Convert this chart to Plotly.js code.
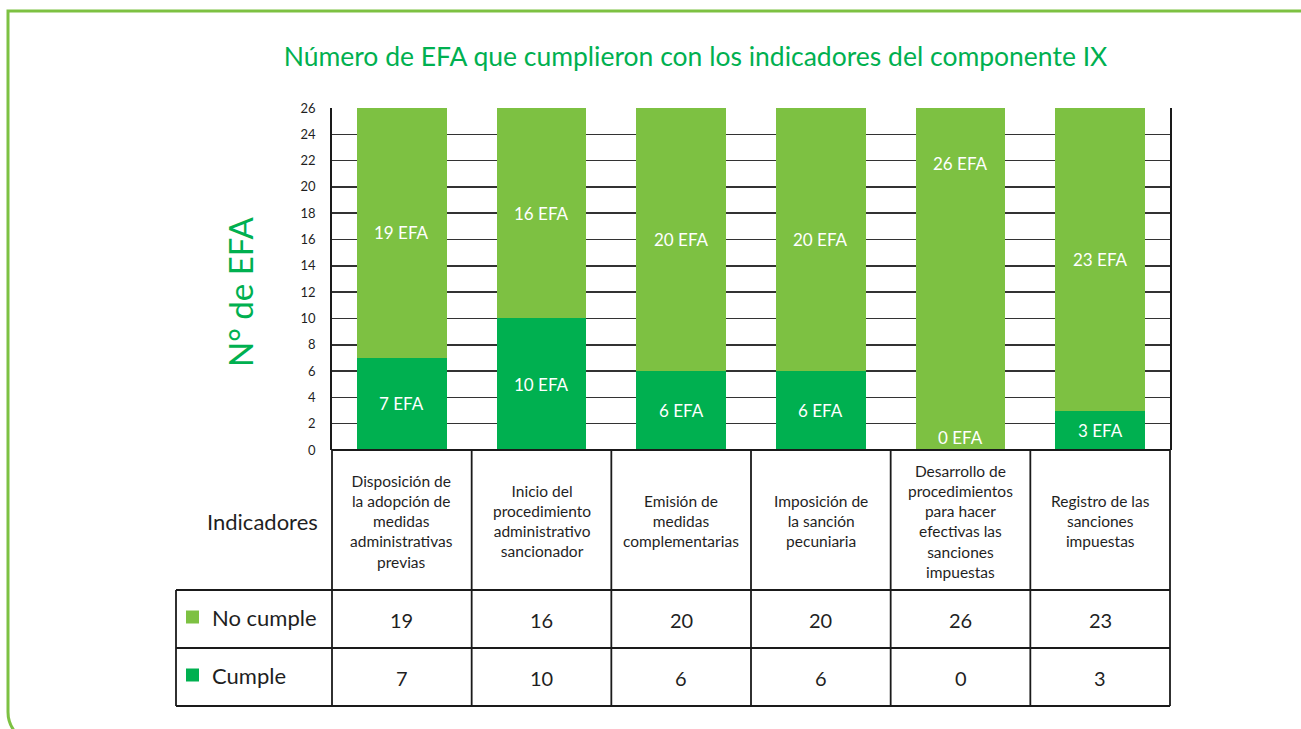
<!DOCTYPE html>
<html>
<head>
<meta charset="utf-8">
<script src="https://cdn.plot.ly/plotly-3.0.1.min.js"></script>
<style>html,body{margin:0;padding:0;background:#fff;}#chart{width:1301px;height:729px;}</style>
</head>
<body>
<div id="chart"></div>
<script>
// ---- data ----
const categories = [
  "Disposición de<br>la adopción de<br>medidas<br>administrativas<br>previas",
  "Inicio del<br>procedimiento<br>administrativo<br>sancionador",
  "Emisión de<br>medidas<br>complementarias",
  "Imposición de<br>la sanción<br>pecuniaria",
  "Desarrollo de<br>procedimientos<br>para hacer<br>efectivas las<br>sanciones<br>impuestas",
  "Registro de las<br>sanciones<br>impuestas"
];
const cumple = [7, 10, 6, 6, 0, 3];
const noCumple = [19, 16, 20, 20, 26, 23];
const seriesNames = ["No cumple", "Cumple"];
const yTicks = [0, 2, 4, 6, 8, 10, 12, 14, 16, 18, 20, 22, 24, 26];
const unitLabel = "EFA";
const titleText = "Número de EFA que cumplieron con los indicadores del componente IX";
const yTitleText = "N° de EFA";
const headerLabel = "Indicadores";

// ---- styles ----
const FONT = "Lato, 'Open Sans', sans-serif";
const C_NO = "#7DC142";
const C_SI = "#00B050";
const TXT = "#1f1f1f";
const LINE = "#1a1a1a";

// plot area in pixels
const L = 332, R = 1170, T = 108, B = 450, W = 1301, H = 729;
const px = x => (x - L) / (R - L);
const py = y => (B - y) / (B - T);
const colW = (R - L) / categories.length;
const colX = i => L + i * colW;

const idx = categories.map((_, i) => i);

const traces = [
  {type: "bar", x: idx, y: cumple, name: seriesNames[1], marker: {color: C_SI}, hoverinfo: "skip"},
  {type: "bar", x: idx, y: noCumple, name: seriesNames[0], marker: {color: C_NO}, hoverinfo: "skip"}
];

const shapes = [];
const annotations = [];
const line = (x0, y0, x1, y1, w, c) => shapes.push({type: "line", xref: "paper", yref: "paper",
  x0: px(x0), y0: py(y0), x1: px(x1), y1: py(y1), line: {color: c || LINE, width: w || 1.8}, layer: "above"});
const note = (x, y, text, size, color, extra) => annotations.push(Object.assign({
  xref: "paper", yref: "paper", x: px(x), y: py(y), text: text, showarrow: false,
  xanchor: "center", yanchor: "middle", align: "center",
  font: {family: FONT, size: size, color: color}}, extra || {}));

// Table grid
const rowY = [B, 590, 648, 706];
const tableLeft = 176;
line(L, B, R, B);
line(tableLeft, rowY[1], R, rowY[1]);
line(tableLeft, rowY[2], R, rowY[2]);
line(tableLeft, rowY[3], R, rowY[3]);
line(tableLeft, rowY[1], tableLeft, rowY[3]);
for (let i = 0; i <= categories.length; i++) line(colX(i), B, colX(i), rowY[3]);

// Frame (green rounded border)
shapes.push({type: "path", xref: "paper", yref: "paper",
  path: `M ${px(W + 5)},${py(11)} L ${px(8)},${py(11)} L ${px(8)},${py(712)} Q ${px(8)},${py(724)} ${px(16)},${py(733)}`,
  line: {color: C_NO, width: 3}, layer: "below"});

// Header, values, labels
categories.forEach((c, i) => {
  const cx = colX(i) + colW / 2;
  note(cx, (rowY[0] + rowY[1]) / 2 + 1, c, 15.5, TXT);
  note(cx, (rowY[1] + rowY[2]) / 2 + 1, String(noCumple[i]), 20, TXT);
  note(cx, (rowY[2] + rowY[3]) / 2 + 1, String(cumple[i]), 20, TXT);
  // bar labels
  const zero = cumple[i] === 0;
  annotations.push({xref: "x", yref: "y", x: i, y: zero ? 0 : cumple[i] / 2, yanchor: zero ? "bottom" : "middle",
    xanchor: "center", text: cumple[i] + " " + unitLabel, showarrow: false,
    font: {family: FONT, size: 17, color: "#ffffff"}});
  const total = cumple[i] + noCumple[i];
  annotations.push({xref: "x", yref: "y", x: i, y: zero ? total - 4.2 : cumple[i] + noCumple[i] / 2,
    xanchor: "center", yanchor: "middle", text: noCumple[i] + " " + unitLabel, showarrow: false,
    font: {family: FONT, size: 17, color: "#ffffff"}});
});

// Row labels & legend squares
note(320, 521, headerLabel, 22, TXT, {xanchor: "right"});
[[seriesNames[0], C_NO, (rowY[1] + rowY[2]) / 2], [seriesNames[1], C_SI, (rowY[2] + rowY[3]) / 2]].forEach(([n, col, yc]) => {
  shapes.push({type: "rect", xref: "paper", yref: "paper", x0: px(186), x1: px(199), y0: py(yc - 8.5), y1: py(yc + 4.5),
    fillcolor: col, line: {width: 0}});
  note(210, yc - 2, n, 22, TXT, {xanchor: "left"});
});

// Y-axis title
note(240, 292, yTitleText, 33, C_SI, {textangle: -90});

const layout = {
  width: W, height: H,
  margin: {l: L, r: W - R, t: T, b: H - B, pad: 0},
  paper_bgcolor: "#ffffff", plot_bgcolor: "#ffffff",
  barmode: "stack", bargap: 0.356, showlegend: false,
  title: {text: titleText, x: 695.5 / W, xanchor: "center", y: 1 - 57 / H, yanchor: "middle",
    font: {family: FONT, size: 26.5, color: C_SI}},
  xaxis: {type: "linear", range: [-0.5, categories.length - 0.5], showticklabels: false, showgrid: false,
    zeroline: false, showline: false, fixedrange: true},
  yaxis: {range: [0, 26], tickvals: yTicks, ticktext: yTicks.map(String), showgrid: true, gridcolor: "#333333",
    gridwidth: 1.5, zeroline: false, showline: true, linecolor: LINE, linewidth: 1.8, mirror: true,
    ticks: "", ticklabelstandoff: 12, tickfont: {family: FONT, size: 13, color: TXT}, fixedrange: true},
  shapes: shapes,
  annotations: annotations
};

Plotly.newPlot("chart", traces, layout, {displayModeBar: false, staticPlot: true});
</script>
</body>
</html>
